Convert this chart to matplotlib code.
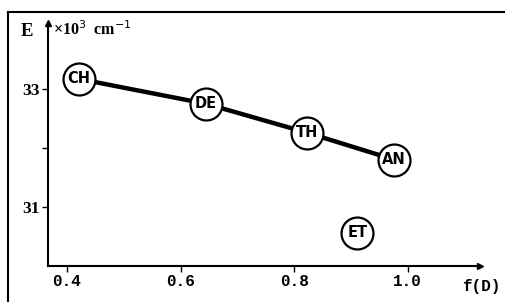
import matplotlib
matplotlib.use("Agg")
import matplotlib.pyplot as plt
from matplotlib.lines import Line2D

# data
labels = ["CH", "DE", "TH", "AN"]
f_D = [0.421, 0.644, 0.822, 0.976]
energy = [33.17, 32.75, 32.26, 31.80]
other_label = "ET"
other_f = 0.911
other_E = 30.56

xticks = [0.4, 0.6, 0.8, 1.0]
xticklabels = ["0.4", "0.6", "0.8", "1.0"]
yticks = [31, 32, 33]
yticklabels = ["31", "", "33"]

fig = plt.figure(figsize=(5.06, 3.02), dpi=100)
ax = fig.add_axes([0.0949, 0.120, 0.8537, 0.804])

ax.plot(f_D, energy, color="black", lw=3.2, solid_capstyle="butt", zorder=2)
for x, y, s in zip(f_D + [other_f], energy + [other_E], labels + [other_label]):
    ax.plot(x, y, "o", ms=23, mfc="white", mec="black", mew=1.6, zorder=3)
    ax.text(x, y, s, ha="center", va="center", fontsize=10.5, fontweight="bold",
            family="DejaVu Sans", zorder=4)

ax.set_xlim(0.3665, 1.127)
ax.set_ylim(30.0, 34.12)
ax.spines["top"].set_visible(False)
ax.spines["right"].set_visible(False)
for sp in ("left", "bottom"):
    ax.spines[sp].set_linewidth(1.5)

# axis arrows
ax.plot(1, 0, ">k", ms=4, transform=ax.transAxes, clip_on=False)
ax.plot(0, 1, "^k", ms=4, transform=ax.transAxes, clip_on=False)

ax.set_xticks(xticks)
ax.set_xticklabels(xticklabels, family="Liberation Mono", fontsize=11.5, fontweight="bold")
ax.set_yticks(yticks)
ax.set_yticklabels(yticklabels, family="Liberation Serif", fontsize=12.5, fontweight="bold")
ax.tick_params(direction="out", length=4, width=1, pad=2)

fig.text(27 / 506, 1 - 32 / 302, "E", family="Liberation Serif", fontsize=13.5,
         fontweight="bold", ha="center", va="center")
fig.text(53 / 506, 1 - 30 / 302, "×10$^3$  cm$^{-1}$", family="Liberation Serif",
         fontsize=11.5, fontweight="bold", ha="left", va="center")
fig.text(462 / 506, 1 - 287 / 302, "f(D)", family="Liberation Mono", fontsize=11.5,
         fontweight="bold", ha="left", va="center")

# frame lines
fig.add_artist(Line2D([8 / 506, 8 / 506], [0, 1 - 12 / 302], color="black", lw=1.5))
fig.add_artist(Line2D([8 / 506, 505 / 506], [1 - 12 / 302, 1 - 12 / 302], color="black", lw=1.5))

fig.savefig("out.png", dpi=100)
